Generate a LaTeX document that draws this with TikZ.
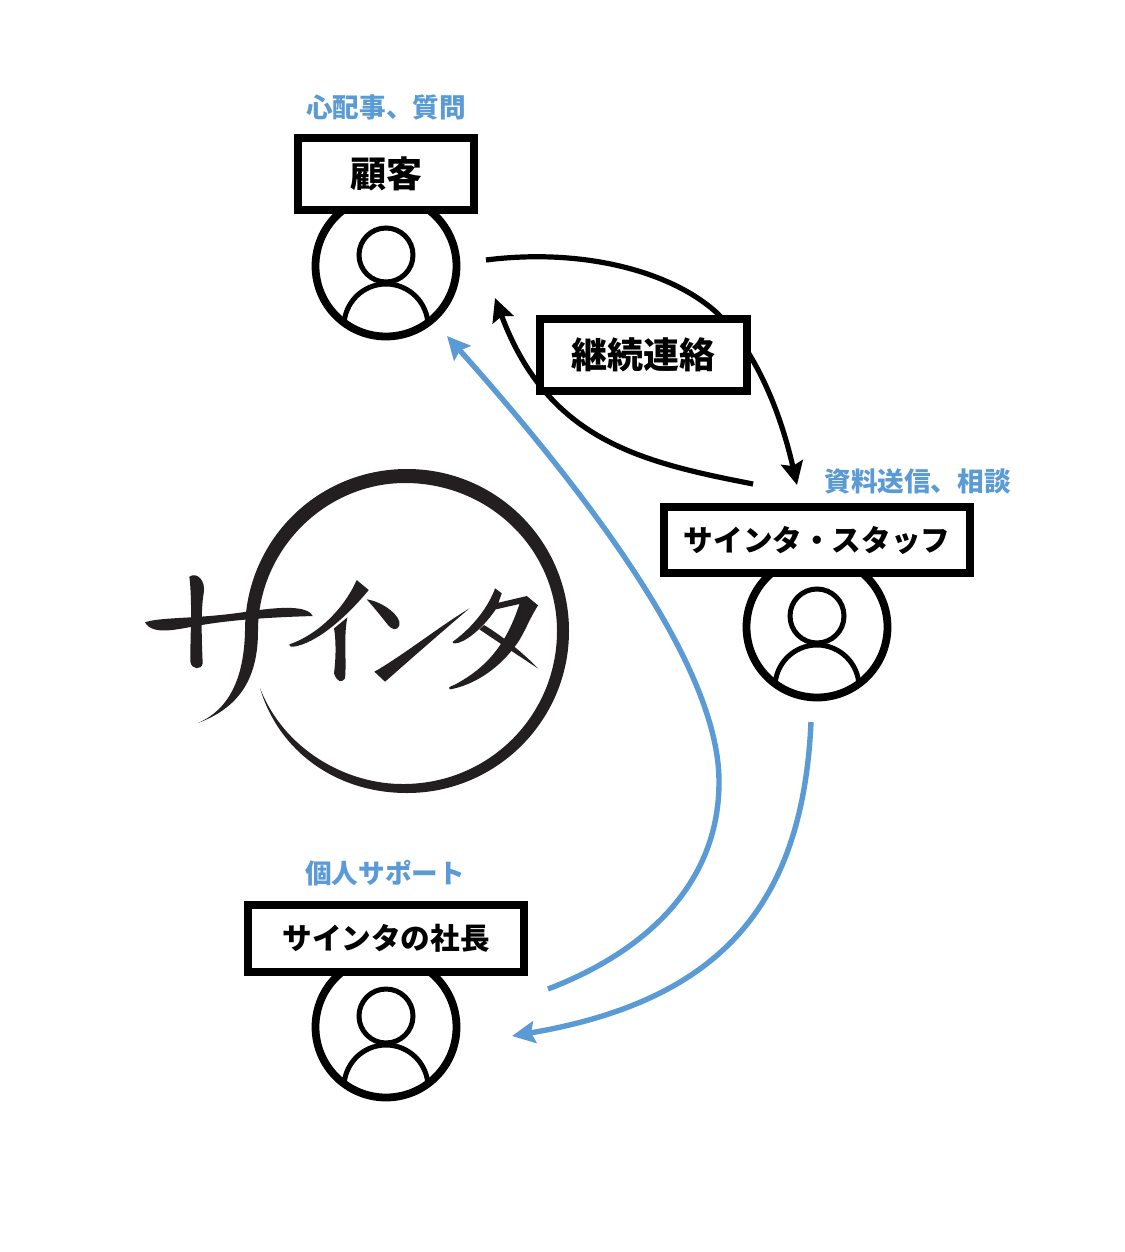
\documentclass[tikz,border=0pt]{standalone}
\usepackage{fontspec}
\setmainfont{Noto Sans CJK JP}
\usetikzlibrary{arrows.meta,shadows}
\definecolor{bluelink}{HTML}{5B9BD5}
\definecolor{inkblack}{HTML}{231F20}
\tikzset{
  personring/.style={circle,draw=black,fill=white,line width=3.9pt,minimum size=70.5pt,inner sep=0pt},
  personline/.style={draw=black,line width=2.5pt},
  person/.pic={
    \node[personring] (-ring) at (0,0) {};
    \draw[personline] (0,-11) circle (27);
    \begin{scope}
      \clip (0,0) circle (70);
      \draw[personline] (0,60) circle (42);
    \end{scope}
  },
  titlebox/.style={draw=black,fill=white,line width=4.1pt,inner sep=0pt,align=center,
    font=\bfseries,text=black,
    drop shadow={shadow xshift=0.6pt,shadow yshift=-1.2pt,opacity=0.35,fill=black}},
  notelabel/.style={text=bluelink,font=\bfseries\fontsize{13.3pt}{15pt}\selectfont,inner sep=0pt},
  blackflow/.style={draw=black,line width=2.6pt,-{Stealth[length=11.5pt,width=11pt,inset=1.8pt]}},
  blueflow/.style={draw=bluelink,line width=2.7pt,-{Stealth[length=11.5pt,width=11pt,inset=1.8pt]}},
  logoink/.style={fill=inkblack,draw=none}
}
\begin{document}
\begin{tikzpicture}[x=0.5pt,y=-0.5pt]
\useasboundingbox[fill=white] (0,0) rectangle (1124,1252);

% logo
\fill[logoink] (198,723) .. controls (228,710) and (244,680) .. (245,631)
  .. controls (245,541) and (317,469) .. (407,469)
  .. controls (496.5,469) and (569,541.5) .. (569,631)
  .. controls (569,720.5) and (496.5,793) .. (407,793)
  .. controls (335,793) and (278,750) .. (260,688)
  .. controls (283,748) and (345,785) .. (405,784)
  .. controls (490,783) and (557,715) .. (557,631)
  .. controls (557,550) and (490,483) .. (405,483)
  .. controls (325,483) and (258,550) .. (258,631)
  .. controls (258,680) and (238,708) .. (198,723) -- cycle;
\begin{scope}[shift={(130,460)},x=0.1667pt,y=-0.1667pt]
  % sa
  \fill[logoink] (45,487) .. controls (90,470) and (200,478) .. (350,455)
    .. controls (420,445) and (530,430) .. (548,468)
    .. controls (480,470) and (330,475) .. (215,495)
    .. controls (150,505) and (70,530) .. (45,487) -- cycle;
  \fill[logoink] (178,350) .. controls (200,335) and (228,360) .. (221,400)
    .. controls (212,450) and (215,540) .. (218,610)
    .. controls (215,630) and (185,630) .. (181,605)
    .. controls (180,540) and (188,430) .. (178,350) -- cycle;
  % i
  \fill[logoink] (478,553) .. controls (560,525) and (640,450) .. (680,360)
    -- (716,390) .. controls (650,470) and (560,550) .. (490,560)
    .. controls (480,560) and (478,558) .. (478,553) -- cycle;
  \fill[logoink] (612,505) -- (652,472) .. controls (640,530) and (650,600) .. (645,655)
    .. controls (635,670) and (620,665) .. (612,640)
    .. controls (618,590) and (618,540) .. (612,505) -- cycle;
  % n
  \fill[logoink] (710,418) .. controls (760,425) and (815,470) .. (808,495)
    .. controls (800,515) and (785,510) .. (770,490)
    .. controls (750,465) and (730,440) .. (710,418) -- cycle;
  \fill[logoink] (733,635) .. controls (820,585) and (920,505) .. (1018,445)
    .. controls (930,520) and (850,590) .. (765,665) -- cycle;
  % ta
  \fill[logoink] (968,545) .. controls (1030,500) and (1075,440) .. (1095,385)
    -- (1115,400) -- (1105,428) -- (1190,408) -- (1224,436)
    .. controls (1195,480) and (1180,530) .. (1150,565)
    .. controls (1100,630) and (1030,675) .. (960,688)
    .. controls (950,680) and (965,680) .. (985,668)
    .. controls (1060,625) and (1125,565) .. (1168,432)
    -- (1097,448) .. controls (1055,510) and (1000,550) .. (975,550)
    .. controls (968,550) and (966,548) .. (968,545) -- cycle;
  \fill[logoink] (1062,495) .. controls (1120,530) and (1180,580) .. (1225,626)
    .. controls (1170,590) and (1110,550) .. (1048,508) -- cycle;
\end{scope}

% free ends of the connectors
\coordinate (fbackstart) at (486,260);
\coordinate (fbackmid) at (717,313);
\coordinate (fbackend) at (797,485);
\coordinate (freplystart) at (753,484);
\coordinate (freplyend) at (495,298);
\coordinate (ceostart) at (548,989);
\coordinate (ceomid) at (719,780);
\coordinate (ceoend) at (447,336);
\coordinate (staffstart) at (811,722);
\coordinate (staffend) at (512,1036);

% connectors
\draw[blackflow] (fbackstart) .. controls (580,248) and (670,270) .. (fbackmid)
  .. controls (755,350) and (780,410) .. (fbackend);
\draw[blackflow] (freplystart) .. controls (640,462) and (548,440) .. (freplyend);
\draw[blueflow] (ceostart) .. controls (650,950) and (720,880) .. (ceomid)
  .. controls (718,680) and (620,530) .. (ceoend);
\draw[blueflow] (staffstart) .. controls (803,900) and (725,1000) .. (staffend);

% people
\pic (customer) at (386,266) {person};
\pic (staff) at (817,627) {person};
\pic (president) at (386,1027) {person};

% boxes
\node[titlebox,minimum width=87.9pt,minimum height=35.9pt,font=\bfseries\fontsize{18pt}{20pt}\selectfont] (customerbox) at (386,174) {顧客};
\node[titlebox,minimum width=103.4pt,minimum height=35.9pt,font=\bfseries\fontsize{18pt}{20pt}\selectfont] (contactbox) at (643.5,355) {継続連絡};
\node[titlebox,minimum width=152.9pt,minimum height=32.9pt,font=\bfseries\fontsize{14.8pt}{17pt}\selectfont] (staffbox) at (817,540) {サインタ・スタッフ};
\node[titlebox,minimum width=137.9pt,minimum height=33.4pt,font=\bfseries\fontsize{14.8pt}{17pt}\selectfont] (presidentbox) at (386,938.5) {サインタの社長};

% labels
\node[notelabel] (customernote) at (386,107) {心配事、質問};
\node[notelabel] (staffnote) at (917.5,481) {資料送信、相談};
\node[notelabel] (presidentnote) at (385,873) {個人サポート};
\end{tikzpicture}
\end{document}
